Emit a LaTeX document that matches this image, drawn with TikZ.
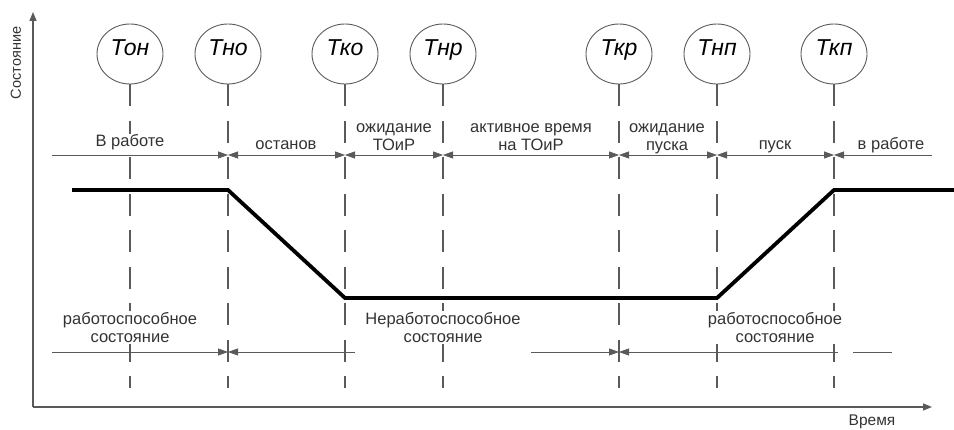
\documentclass[tikz,border=0pt]{standalone}
\usepackage{fontspec}
\setmainfont{Liberation Sans}
\usetikzlibrary{shapes.geometric,arrows.meta}
\definecolor{ln}{HTML}{5A5A5A}
\definecolor{tx}{HTML}{333333}
\begin{document}
\begin{tikzpicture}[x=1pt,y=-1pt,
  ell/.style={ellipse,draw=ln,line width=0.9pt,minimum width=66pt,minimum height=60pt,
    inner sep=0pt,font=\itshape\fontsize{23}{23}\selectfont,text=black,text depth=12pt},
  dashv/.style={draw=ln,line width=1.3pt,dash pattern=on 22pt off 14.5pt},
  rowline/.style={draw=ln,line width=0.8pt},
  tip/.tip={Triangle[length=10pt,width=7pt]},
  lbl/.style={font=\fontsize{16.5}{18.5}\selectfont,text=tx,align=center,inner sep=1pt},
  wlbl/.style={lbl,fill=white},
  axis/.style={draw=ln,line width=1.3pt},
  state/.style={draw=black,line width=3.8pt,line join=miter}]
\useasboundingbox (0,0) rectangle (954,430);
% axes
\coordinate (o) at (33,407);
\coordinate (ytop) at (33,12);
\coordinate (xend) at (932,407);
\draw[axis,-{Triangle[length=9pt,width=7pt]}] (o) -- (ytop);
\draw[axis,-{Triangle[length=9pt,width=7pt]}] (o) -- (xend);
\node[lbl,rotate=90,font=\fontsize{14.5}{16}\selectfont] (ylab) at (16,63) {Состояние};
\node[lbl,font=\fontsize{15.5}{17}\selectfont] (xlab) at (872,422) {Время};
% event circles
\node[ell] (ton) at (130,54) {Тон};
\node[ell] (tno) at (228,54) {Тно};
\node[ell] (tko) at (345,54) {Тко};
\node[ell] (tnr) at (443,54) {Тнр};
\node[ell] (tkr) at (619,54) {Ткр};
\node[ell] (tnp) at (717,54) {Тнп};
\node[ell] (tkp) at (834,54) {Ткп};
% dashed verticals
\coordinate (bot) at (0,388);
\foreach \n in {ton,tno,tko,tnr,tkr,tnp,tkp}
  \draw[dashv] (\n.south) -- (\n |- bot);
% top row
\coordinate (rt) at (52,155);
\coordinate (rte) at (932,155);
\draw[rowline,-tip] (rt) -- (tno |- rt);
\draw[rowline,tip-tip] (tno |- rt) -- (tko |- rt);
\draw[rowline,tip-tip] (tko |- rt) -- (tnr |- rt);
\draw[rowline,tip-tip] (tnr |- rt) -- (tkr |- rt);
\draw[rowline,tip-tip] (tkr |- rt) -- (tnp |- rt);
\draw[rowline,tip-tip] (tnp |- rt) -- (tkp |- rt);
\draw[rowline,tip-] (tkp |- rt) -- (rte);
% bottom row
\coordinate (rb) at (52,352);
\coordinate (rb1) at (355,352);
\coordinate (rb2) at (531,352);
\coordinate (rb3) at (838,352);
\coordinate (rb4) at (853,352);
\coordinate (rbe) at (892,352);
\draw[rowline,-tip] (rb) -- (tno |- rb);
\draw[rowline,tip-] (tno |- rb) -- (rb1);
\draw[rowline,-tip] (rb2) -- (tkr |- rb);
\draw[rowline,tip-] (tkr |- rb) -- (rb3);
\draw[rowline] (rb4) -- (rbe);
% state line
\coordinate (hi) at (0,190);
\coordinate (lo) at (0,298);
\coordinate (s0) at (72,190);
\coordinate (s1) at (954,190);
\draw[state] (s0) -- (tno |- hi) -- (tko |- lo) -- (tnp |- lo) -- (tkp |- hi) -- (s1);
% top labels
\node[wlbl,anchor=base] (l1) at (130,147) {В работе};
\node[lbl,anchor=base] (l2) at (286,150) {останов};
\node[lbl,anchor=base] (l3) at (394,151) {ожидание\\ТОиР};
\node[lbl,anchor=base] (l4) at (531,151) {активное время\\на ТОиР};
\node[lbl,anchor=base] (l5) at (667,151) {ожидание\\пуска};
\node[lbl,anchor=base] (l6) at (775,150) {пуск};
\node[lbl,anchor=base] (l7) at (891,150) {в работе};
% bottom labels
\node[wlbl,anchor=base] (b1) at (130,343) {работоспособное\\состояние};
\node[wlbl,anchor=base] (b2) at (443,343) {Неработоспособное\\состояние};
\node[wlbl,anchor=base] (b3) at (775,343) {работоспособное\\состояние};
\end{tikzpicture}
\end{document}
